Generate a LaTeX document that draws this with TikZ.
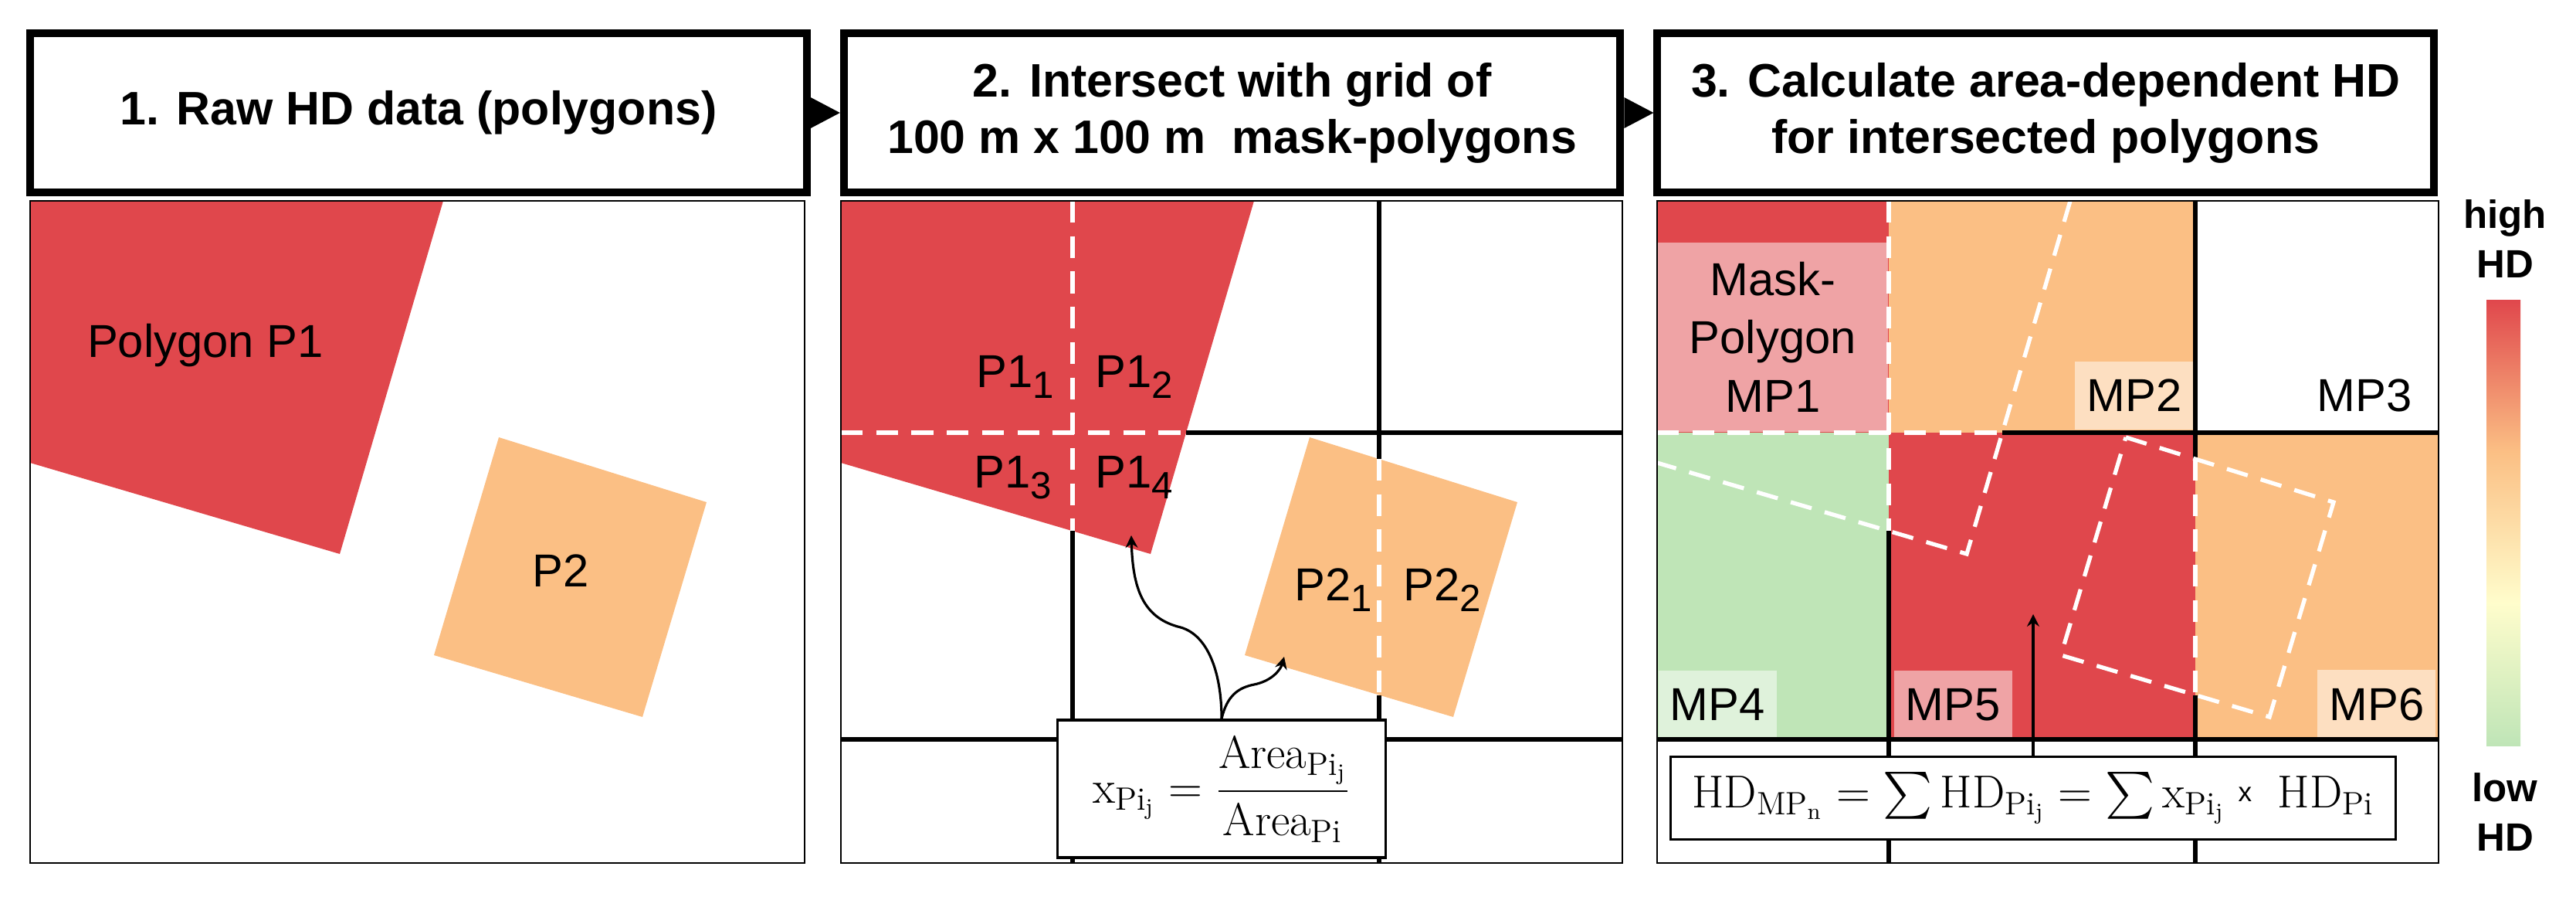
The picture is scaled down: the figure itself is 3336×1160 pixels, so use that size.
\documentclass[tikz,border=0pt]{standalone}
\usepackage{fontspec}
\usepackage{amsmath}
\usetikzlibrary{arrows.meta}
\usetikzlibrary{calc}
\usetikzlibrary{positioning}

\newfontfamily\arialf{Liberation Sans}

\definecolor{hdred}{RGB}{224,71,76}
\definecolor{hdorange}{RGB}{251,191,132}
\definecolor{hdgreen}{RGB}{191,229,183}
\definecolor{hdyellow}{RGB}{255,253,204}

% the path is mapped onto 25bp..75bp of the shading
\pgfdeclareverticalshading{hdscale}{100bp}{color(0bp)=(hdgreen); color(25bp)=(hdgreen); color(41bp)=(hdyellow); color(58bp)=(hdorange); color(75bp)=(hdred); color(100bp)=(hdred)}

% lowered index for the polygon pieces
\newcommand{\lsub}[1]{\raisebox{-4pt}{\fontsize{14pt}{14pt}\selectfont #1}}

\begin{document}
\begin{tikzpicture}[%
  x=0.01cm, y=-0.01cm,
  header/.style={draw, line width=0.1cm, minimum width=10.05cm, minimum height=2.05cm,
    inner sep=0pt, align=center, font=\arialf\bfseries\fontsize{17.3pt}{20.8pt}\selectfont},
  panel/.style={draw, line width=0.7pt},
  grid line/.style={black, line width=1.7pt},
  cut line/.style={white, line width=1.5pt, dash pattern=on 8pt off 5pt},
  poly label/.style={inner sep=0pt, font=\arialf\fontsize{17pt}{21.5pt}\selectfont},
  mask label/.style={poly label, fill=white, fill opacity=0.5, text opacity=1,
    inner xsep=0.15cm, inner ysep=0.235cm},
  formula/.style={draw, fill=white, line width=0.9pt, inner sep=0pt,
    font=\fontsize{17pt}{20pt}\selectfont},
  flow arrow/.style={-{Stealth[length=4.5pt,width=4.5pt]}, line width=0.9pt},
  scale label/.style={align=center, inner sep=0pt,
    font=\arialf\bfseries\fontsize{14.5pt}{18.2pt}\selectfont}
  ]
  \useasboundingbox (0,0) rectangle (3336,1160);

  % Step headers
  \node[header] (h1) at (542,146) {1. Raw HD data (polygons)};
  \node[header, right=0.38cm of h1] (h2) {2. Intersect with grid of\\100 m x 100 m~~mask-polygons};
  \node[header, right=0.38cm of h2] (h3) {3. Calculate area-dependent HD\\for intersected polygons};
  \fill ($(h1.east)+(0,-20)$) -- (h2.west) -- ($(h1.east)+(0,20)$) -- cycle;
  \fill ($(h2.east)+(0,-20)$) -- (h3.west) -- ($(h2.east)+(0,20)$) -- cycle;

  % Panel 1: raw polygons
  \begin{scope}[shift={(39,260)}]
    \fill[hdred] (0,0) -- (535,0) -- (401,457) -- (0,339) -- cycle;
    \fill[hdorange] (607,306) -- (876,390) -- (793,668) -- (523,588) -- cycle;
    \draw[panel] (0,0) rectangle (1003,857);
    \node[poly label, anchor=base] (pa) at (227,202) {Polygon P1};
    \node[poly label, anchor=base] (pb) at (687,499) {P2};
  \end{scope}

  % Panel 2: intersection with the grid
  \begin{scope}[shift={(1089,260)}]
    \fill[hdred] (0,0) -- (535,0) -- (401,457) -- (0,339) -- cycle;
    \fill[hdorange] (607,306) -- (876,390) -- (793,668) -- (523,588) -- cycle;
    \draw[grid line] (300,427) -- (300,857);
    \draw[grid line] (697,0) -- (697,334) (697,640) -- (697,857);
    \draw[grid line] (447,300) -- (1012,300);
    \draw[grid line] (0,697) -- (1012,697);
    \draw[cut line] (300,0) -- (300,427);
    \draw[cut line] (697,334) -- (697,640);
    \draw[cut line] (0,300) -- (447,300);
    \draw[panel] (0,0) rectangle (1012,857);
    \node[poly label, anchor=base west] (p11) at (175,241) {P1\lsub{1}};
    \node[poly label, anchor=base west] (p12) at (329,241) {P1\lsub{2}};
    \node[poly label, anchor=base west] (p13) at (172,371) {P1\lsub{3}};
    \node[poly label, anchor=base west] (p14) at (329,371) {P1\lsub{4}};
    \node[poly label, anchor=base west] (p21) at (587,517) {P2\lsub{1}};
    \node[poly label, anchor=base west] (p22) at (728,517) {P2\lsub{2}};
    \node[formula, minimum width=4.25cm, minimum height=1.78cm] (f2) at (493,761)
      {$\displaystyle \mathrm{x}_{\mathrm{Pi}_{\mathrm{j}}} = \frac{\mathrm{Area}_{\mathrm{Pi}_{\mathrm{j}}}}{\mathrm{Area}_{\mathrm{Pi}}}$};
    \coordinate (t14) at (376,433);
    \coordinate (t21) at (574,590);
    \draw[flow arrow] (f2.north) .. controls (493,610) and (475,562) .. (440,552)
      .. controls (390,540) and (378,500) .. (t14);
    \draw[flow arrow] (f2.north) .. controls (500,640) and (515,630) .. (535,626)
      .. controls (560,621) and (570,605) .. (t21);
  \end{scope}

  % Panel 3: area-dependent HD of the mask-polygons
  \begin{scope}[shift={(2146,260)}]
    \fill[hdred] (0,0) rectangle (300,300);
    \fill[hdorange] (300,0) rectangle (697,300);
    \fill[hdgreen] (0,300) rectangle (300,697);
    \fill[hdred] (300,300) rectangle (697,697);
    \fill[hdorange] (697,300) rectangle (1012,697);
    \node[mask label, align=center, minimum width=2.98cm, minimum height=2.45cm,
      anchor=north west] (mp1) at (0,53) {Mask-\\Polygon\\MP1};
    \node[mask label, anchor=south east] (mp2) at (695,297) {MP2};
    \node[mask label, anchor=south east] (mp3) at (993,297) {MP3};
    \node[mask label, anchor=south west] (mp4) at (1,697) {MP4};
    \node[mask label, anchor=south west] (mp5) at (306,697) {MP5};
    \node[mask label, anchor=south east] (mp6) at (1009,697) {MP6};
    \draw[grid line] (300,427) -- (300,857);
    \draw[grid line] (697,0) -- (697,334) (697,640) -- (697,857);
    \draw[grid line] (447,300) -- (1012,300);
    \draw[grid line] (0,697) -- (1012,697);
    \draw[cut line] (300,0) -- (300,427);
    \draw[cut line] (697,334) -- (697,640);
    \draw[cut line] (0,300) -- (447,300);
    \draw[cut line] (535,0) -- (401,457) -- (0,339);
    \draw[cut line] (607,306) -- (876,390) -- (793,668) -- (523,588) -- cycle;
    \draw[panel] (0,0) rectangle (1012,857);
    \node[formula, minimum width=9.39cm, minimum height=1.07cm] (f3) at (487,773)
      {$\mathrm{HD}_{\mathrm{MP}_{\mathrm{n}}} = \sum \mathrm{HD}_{\mathrm{Pi}_{\mathrm{j}}}
        = \sum \mathrm{x}_{\mathrm{Pi}_{\mathrm{j}}}\;
        \mbox{\raisebox{2pt}{\arialf\fontsize{10pt}{10pt}\selectfont x}}\;\;
        \mathrm{HD}_{\mathrm{Pi}}$};
    \coordinate (t5) at (487,535);
    \draw[flow arrow] (f3) -- (t5);
  \end{scope}

  % HD colour scale
  \shade[shading=hdscale] (3220,388) rectangle (3264,965);
  \node[scale label] (hi) at (3244,309) {high\\HD};
  \node[scale label] (lo) at (3244,1051) {low\\HD};
\end{tikzpicture}
\end{document}
